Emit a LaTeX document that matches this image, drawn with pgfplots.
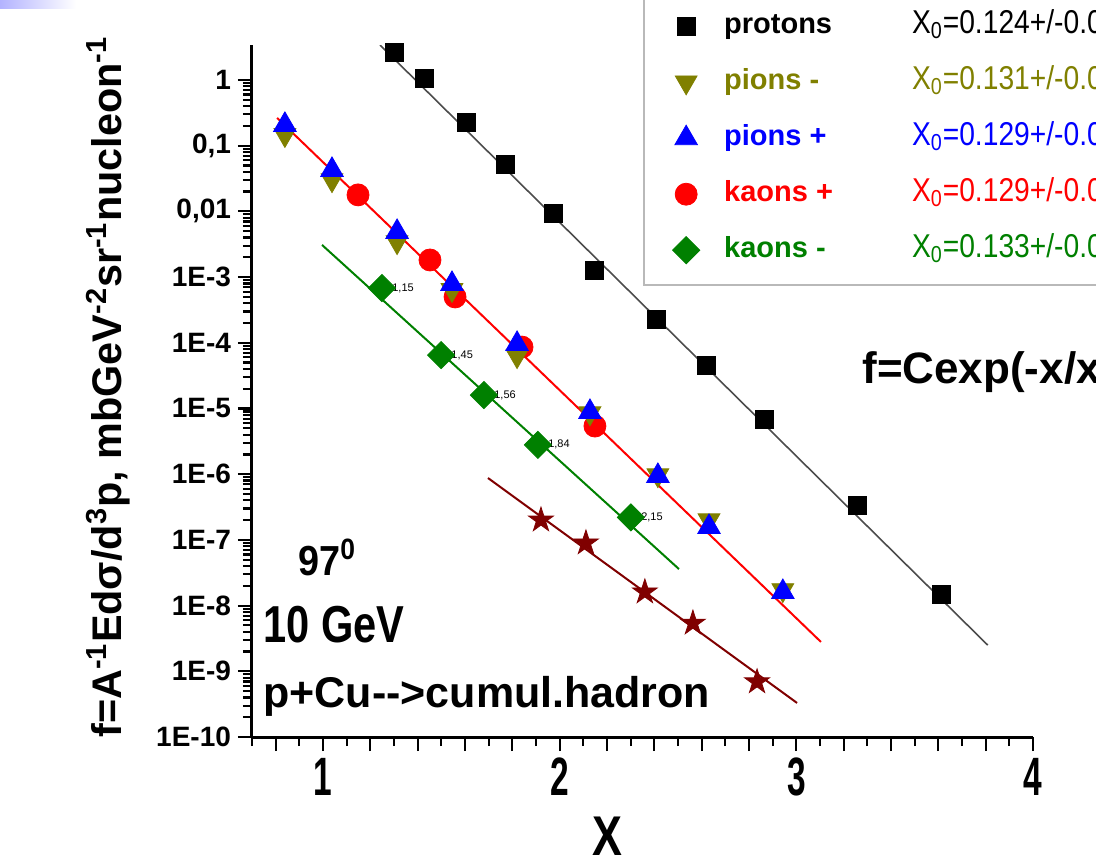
\documentclass[border=0pt]{standalone}
\usepackage{fontspec}
\setmainfont{Liberation Sans}
\usepackage{graphicx}
\usepackage{pgfplots}
\pgfplotsset{compat=1.18}

\definecolor{olv}{RGB}{128,128,0}
\definecolor{grn}{RGB}{0,128,0}
\definecolor{mrn}{RGB}{128,0,0}

% filled five-pointed star
\pgfdeclareplotmark{fstar}{%
  \pgfpathmoveto{\pgfqpoint{0pt}{\pgfplotmarksize}}%
  \pgfpathlineto{\pgfqpoint{0.2245\pgfplotmarksize}{0.309\pgfplotmarksize}}%
  \pgfpathlineto{\pgfqpoint{0.951\pgfplotmarksize}{0.309\pgfplotmarksize}}%
  \pgfpathlineto{\pgfqpoint{0.363\pgfplotmarksize}{-0.118\pgfplotmarksize}}%
  \pgfpathlineto{\pgfqpoint{0.588\pgfplotmarksize}{-0.809\pgfplotmarksize}}%
  \pgfpathlineto{\pgfqpoint{0pt}{-0.382\pgfplotmarksize}}%
  \pgfpathlineto{\pgfqpoint{-0.588\pgfplotmarksize}{-0.809\pgfplotmarksize}}%
  \pgfpathlineto{\pgfqpoint{-0.363\pgfplotmarksize}{-0.118\pgfplotmarksize}}%
  \pgfpathlineto{\pgfqpoint{-0.951\pgfplotmarksize}{0.309\pgfplotmarksize}}%
  \pgfpathlineto{\pgfqpoint{-0.2245\pgfplotmarksize}{0.309\pgfplotmarksize}}%
  \pgfpathclose
  \pgfusepathqfillstroke}

\newcommand{\xl}[1]{\scalebox{0.62}[1]{#1}}
\newcommand{\lent}[3]{\textcolor{#1}{\makebox[94pt][l]{\bfseries #2}\scalebox{0.855}[1]{\fontsize{16.5}{17}\selectfont X\textsubscript{0}=#3}}}

\begin{document}
\begin{tikzpicture}
\useasboundingbox (-126pt,-63.5pt) rectangle (422pt,368.5pt);
\clip (-126pt,-63.5pt) rectangle (422pt,368.5pt);
\shade[left color=blue!30, right color=white] (-126pt,368.5pt) rectangle (-88pt,364pt);

\begin{axis}[
    scale only axis,
    width=390.5pt, height=346pt,
    xmin=0.7, xmax=4,
    ymode=log, ymin=1e-10, ymax=3.4,
    axis lines*=left,
    axis line style={line width=1.5pt},
    tick align=outside,
    major tick length=7pt, minor tick length=4.5pt,
    tick style={line width=1.1pt, black},
    xtick={0.8,1,1.2,1.4,1.6,1.8,2,2.2,2.4,2.6,2.8,3,3.2,3.4,3.6,3.8,4},
    xticklabels={,\xl{1},,,,,\xl{2},,,,,\xl{3},,,,,\xl{4}},
    minor xtick={0.7,0.9,1.1,1.3,1.5,1.7,1.9,2.1,2.3,2.5,2.7,2.9,3.1,3.3,3.5,3.7,3.9},
    xticklabel style={font=\fontsize{27}{27}\selectfont\bfseries},
    ytick={1e-10,1e-9,1e-8,1e-7,1e-6,1e-5,1e-4,1e-3,1e-2,1e-1,1},
    yticklabels={1E-10,1E-9,1E-8,1E-7,1E-6,1E-5,1E-4,1E-3,{0,01},{0,1},1},
    yticklabel style={font=\fontsize{14}{14}\selectfont\bfseries},
    legend style={at={(0.5006,1.0795)}, anchor=north west,
        draw=gray!55, line width=1.2pt,
        inner xsep=13pt, inner ysep=10pt, row sep=13pt, column sep=11pt,
        font=\fontsize{14.5}{16}\selectfont,
        nodes={inner sep=0pt, text height=11pt, text depth=4pt}},
    legend cell align=left,
    legend image code/.code={\path[draw=none, fill=none] (-8pt,-5pt) rectangle (8pt,5pt);
        \draw[#1] plot coordinates {(0pt,0pt)};},
    kplus/.style={only marks, mark=*, mark size=5.5pt, red, mark options={line width=0.4pt}},
]
% kaons+ drawn first so that the pion triangles lie over them
\addplot[kplus, forget plot]
  coordinates {(1.148,0.0178) (1.452,1.82e-3) (1.558,4.98e-4) (1.841,8.6e-5) (2.149,5.4e-6)};

\addplot[only marks, mark=square*, mark size=4.5pt, black, mark options={line width=0.4pt}]
  coordinates {(1.30,2.6) (1.427,1.07) (1.604,0.222) (1.769,0.0526) (1.972,0.00946)
  (2.145,1.28e-3) (2.407,2.3e-4) (2.618,4.6e-5) (2.867,6.9e-6) (3.260,3.3e-7) (3.615,1.5e-8)};
\addlegendentry{\lent{black}{protons}{0.124+/-0.003}}

\addplot[only marks, mark=triangle*, mark size=6.3pt, olv, mark options={rotate=180, line width=0.4pt}]
  coordinates {(0.839,0.146) (1.038,0.030) (1.313,3.42e-3) (1.545,6.4e-4) (1.820,6.3e-5)
  (2.128,8.5e-6) (2.415,9.7e-7) (2.631,2.0e-7) (2.943,1.73e-8)};
\addlegendentry{\lent{olv}{pions -}{0.131+/-0.003}}

\addplot[only marks, mark=triangle*, mark size=6.5pt, blue, mark options={line width=0.4pt}]
  coordinates {(0.839,0.207) (1.038,0.0427) (1.313,4.86e-3) (1.545,7.85e-4) (1.820,9.6e-5)
  (2.128,8.85e-6) (2.415,9.4e-7) (2.631,1.57e-7) (2.943,1.61e-8)};
\addlegendentry{\lent{blue}{pions +}{0.129+/-0.003}}

\addlegendimage{kplus}
\addlegendentry{\lent{red}{kaons +}{0.129+/-0.003}}

\addplot[only marks, mark=square*, mark size=4.8pt, grn, mark options={rotate=45, line width=0.4pt}]
  coordinates {(1.249,6.8e-4) (1.499,6.5e-5) (1.680,1.6e-5) (1.908,2.8e-6) (2.301,2.2e-7)};
\addlegendentry{\lent{grn}{kaons -}{0.133+/-0.003}}

\addplot[only marks, mark=fstar, mark size=6.5pt, mrn, mark options={line width=0.4pt}, forget plot]
  coordinates {(1.921,2.0e-7) (2.111,8.97e-8) (2.360,1.61e-8) (2.563,5.4e-9) (2.834,6.9e-10)};

% exponential fits
\addplot[black!70, line width=0.8pt, forget plot] coordinates {(1.241,3.4) (3.809,2.5e-9)};
\addplot[red, line width=1pt, forget plot] coordinates {(0.806,0.264) (3.104,2.8e-9)};
\addplot[grn, line width=1pt, forget plot] coordinates {(0.996,3.08e-3) (2.504,3.6e-8)};
\addplot[mrn, line width=1pt, forget plot] coordinates {(1.697,8.75e-7) (3.003,3.3e-10)};

% small labels beside the kaons- points
\begin{scope}[every node/.style={anchor=west, inner sep=0pt, xshift=5pt, font=\fontsize{5.5}{6}\selectfont}]
\node at (axis cs:1.249,6.8e-4) {1,15};
\node at (axis cs:1.499,6.5e-5) {1,45};
\node at (axis cs:1.680,1.6e-5) {1,56};
\node at (axis cs:1.908,2.8e-6) {1,84};
\node at (axis cs:2.301,2.2e-7) {2,15};
\end{scope}
\end{axis}

\node[rotate=90, font=\fontsize{20.7}{21}\selectfont\bfseries] at (-72pt,175pt)
  {f=A\textsuperscript{-1}Edσ/d\textsuperscript{3}p, mbGeV\textsuperscript{-2}sr\textsuperscript{-1}nucleon\textsuperscript{-1}};
\node[font=\fontsize{28}{28}\selectfont\bfseries] at (177.5pt,-49.5pt) {\scalebox{0.8}[1]{X}};
\node[anchor=base west, inner sep=0pt, font=\fontsize{21}{21}\selectfont\bfseries] at (23pt,81pt)
  {\scalebox{0.9}[1]{97\textsuperscript{0}}};
\node[anchor=base west, inner sep=0pt, font=\fontsize{26}{26}\selectfont\bfseries] at (5.5pt,47.5pt)
  {\scalebox{0.8}[1]{10 GeV}};
\node[anchor=base west, inner sep=0pt, font=\fontsize{21.5}{22}\selectfont\bfseries] at (5.5pt,15pt)
  {p+Cu{-}{-}>cumul.hadron};
\node[anchor=base west, inner sep=0pt, font=\fontsize{22}{22}\selectfont\bfseries] at (305pt,177pt)
  {f=Cexp(-x/x\textsubscript{0})};
\end{tikzpicture}
\end{document}
